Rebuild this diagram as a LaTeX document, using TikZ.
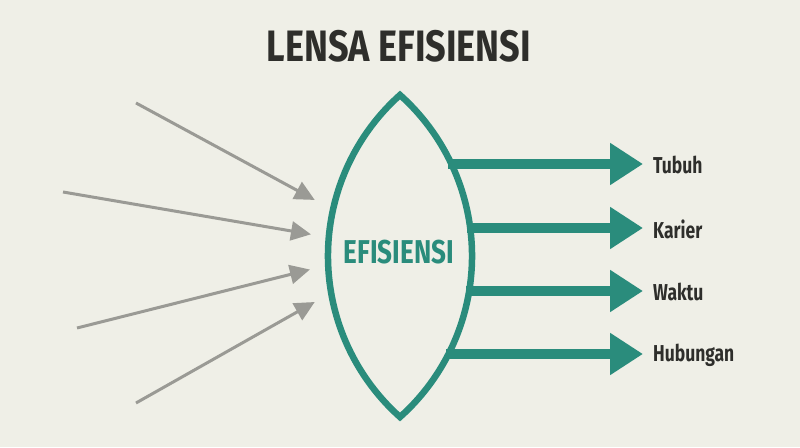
\documentclass[tikz,border=0pt]{standalone}
\usepackage{fontspec}
\setmainfont{Fira Sans}[FakeStretch=0.76,BoldFont={Fira Sans Bold}]
\newfontfamily\titlefont{Fira Sans Bold}[FakeStretch=0.82]
\newfontfamily\lensfont{Fira Sans Bold}[FakeStretch=0.79]
\usetikzlibrary{arrows.meta}
\definecolor{bg}{HTML}{EFEFE7}
\definecolor{teal}{HTML}{2A8C7C}
\definecolor{grayarr}{HTML}{9A9A95}
\definecolor{ink}{HTML}{2E2E2B}
\begin{document}
\begin{tikzpicture}[x=1pt,y=1pt,
  lensline/.style={draw=teal,line width=6.5pt,line join=miter,miter limit=10},
  outarrow/.style={draw=teal,line width=10pt,-{Triangle[length=33pt,width=40pt]}},
  inarrow/.style={draw=grayarr,line width=3pt,-{Triangle[length=20pt,width=19pt]},shorten >=-2pt},
  outlabel/.style={anchor=west,text=ink,font=\bfseries\fontsize{23}{26}\selectfont,inner sep=0pt}]
\fill[bg] (0,0) rectangle (800,447);
\useasboundingbox (0,0) rectangle (800,447);
% title
\node[font=\titlefont\fontsize{44}{48}\selectfont,text=ink,inner sep=0pt] (title) at (399,401) {LENSA EFISIENSI};
% lens
\draw[lensline] (400,352) arc[start angle=131.8,end angle=228.2,radius=216]
  arc[start angle=-48.2,end angle=48.2,radius=216] -- cycle;
\node[font=\lensfont\fontsize{33}{36}\selectfont,text=teal,inner sep=0pt] (lens) at (399,195) {EFISIENSI};
% lens edge coordinates (right)
\coordinate (r1) at (448,283);
\coordinate (r2) at (467,219);
\coordinate (r3) at (466,156);
\coordinate (r4) at (446,93);
% outputs
\node[outlabel] (tubuh) at (653,282) {Tubuh};
\node[outlabel] (karier) at (653,218) {Karier};
\node[outlabel] (waktu) at (653,155) {Waktu};
\node[outlabel] (hub) at (653,92) {Hubungan};
\draw[outarrow] (r1) -- (643,283) coordinate (t1);
\draw[outarrow] (r2) -- (643,219) coordinate (t2);
\draw[outarrow] (r3) -- (643,156) coordinate (t3);
\draw[outarrow] (r4) -- (643,93) coordinate (t4);
% inputs
\coordinate (s1) at (136,344);
\coordinate (s2) at (63,255);
\coordinate (s3) at (77,119);
\coordinate (s4) at (136,44);
\coordinate (e1) at (313,248);
\coordinate (e2) at (309,213);
\coordinate (e3) at (308,177);
\coordinate (e4) at (313,144);
\draw[inarrow] (s1) -- (e1);
\draw[inarrow] (s2) -- (e2);
\draw[inarrow] (s3) -- (e3);
\draw[inarrow] (s4) -- (e4);
\end{tikzpicture}
\end{document}
